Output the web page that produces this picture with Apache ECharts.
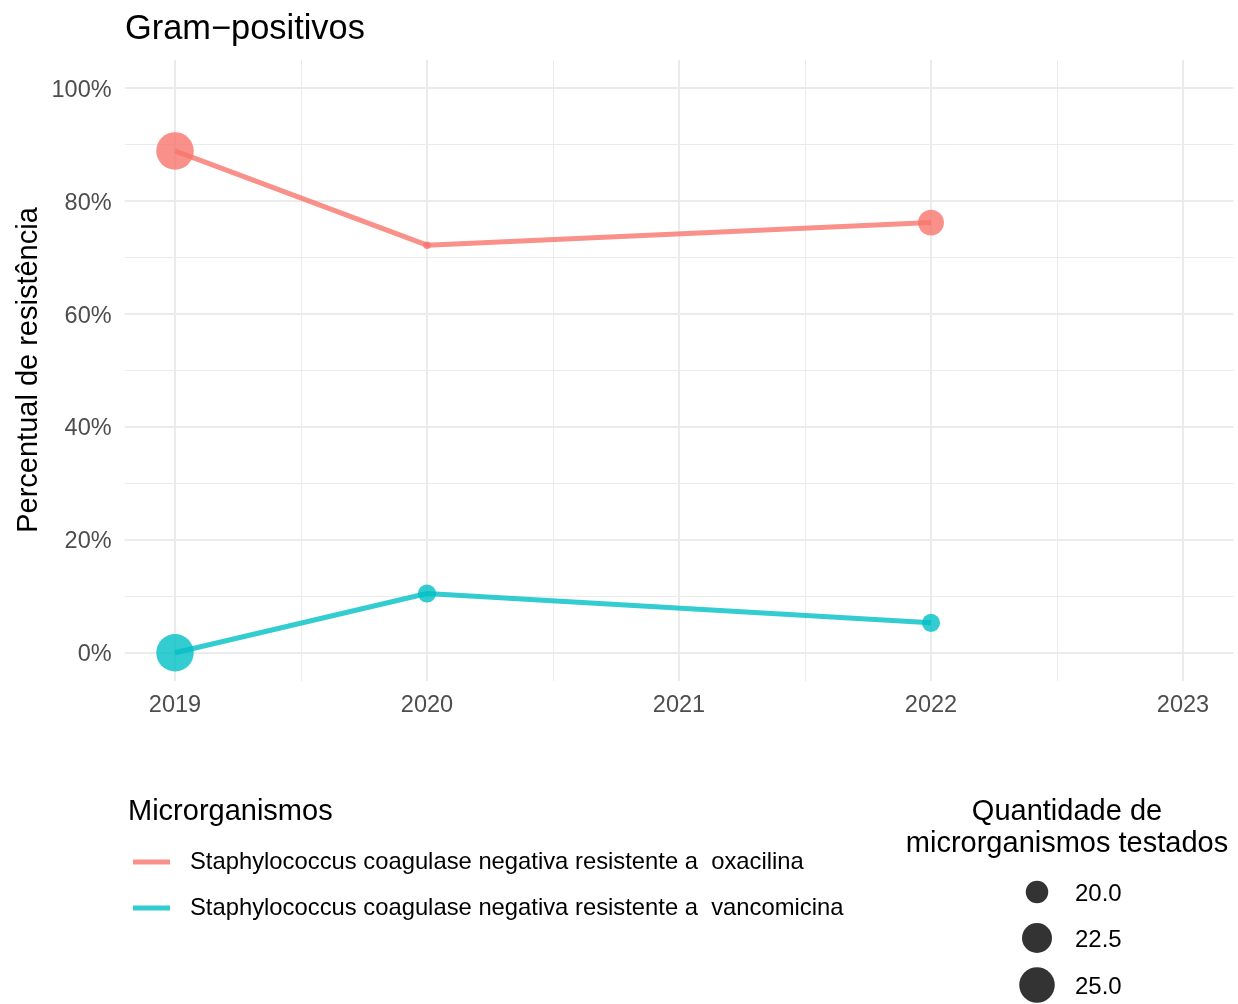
<!DOCTYPE html>
<html><head><meta charset="utf-8">
<script src="https://cdn.jsdelivr.net/npm/echarts@6/dist/echarts.min.js"></script>
<style>html,body{margin:0;padding:0;background:#fff}#c{width:1238px;height:1004px}</style>
</head><body><div id="c"></div>
<script>
const years = [2019, 2020, 2022];
const oxaPct = [88.9, 72.2, 76.2];
const vancPct = [0, 10.5, 5.3];
const oxaN = [26, 18, 21];
const vancN = [26, 19, 19];
const seriesNames = ['Staphylococcus coagulase negativa resistente a  oxacilina', 'Staphylococcus coagulase negativa resistente a  vancomicina'];
const xTicks = [2019, 2020, 2021, 2022, 2023];
const xMinor = [2019.5, 2020.5, 2021.5, 2022.5];
const yTicks = [0, 20, 40, 60, 80, 100];
const yMinor = [10, 30, 50, 70, 90];
const sizeBreaks = [20, 22.5, 25];
const sizeBreakLabels = ['20.0', '22.5', '25.0'];

const FONT = '"Liberation Sans", Arial, Helvetica, sans-serif';
const nMin = 18, nMax = 26;
function sizePx(n) { return 1.5 + 6 * (1 + 5 * Math.sqrt(Math.max(0, (n - nMin) / (nMax - nMin)))); }

const colOxa = 'rgba(248,118,109,0.8)';
const colVanc = 'rgba(0,191,196,0.8)';

function mk(pct, ns) { return years.map((y, i) => [y, pct[i], ns[i]]); }

const chart = echarts.init(document.getElementById('c'), null, { renderer: 'canvas' });

const graphic = [
  { type: 'text', left: 125, top: 13, style: { text: 'Gram\u2212positivos', font: '34.4px ' + FONT, fill: '#000' } },
  { type: 'text', x: 29, y: 370, rotation: Math.PI / 2, style: { text: 'Percentual de resistência', font: '29px ' + FONT, fill: '#000', align: 'center', verticalAlign: 'middle' } },
  { type: 'text', x: 128, y: 812, style: { text: 'Microrganismos', font: '29px ' + FONT, fill: '#000', align: 'left', verticalAlign: 'middle' } },
  { type: 'text', x: 1067, y: 812, style: { text: 'Quantidade de', font: '29px ' + FONT, fill: '#000', align: 'center', verticalAlign: 'middle' } },
  { type: 'text', x: 1067, y: 844, style: { text: 'microrganismos testados', font: '29px ' + FONT, fill: '#000', align: 'center', verticalAlign: 'middle' } }
];
const legendY = [892, 938, 985];
sizeBreaks.forEach((b, i) => {
  graphic.push({ type: 'circle', shape: { cx: 1037, cy: legendY[i], r: sizePx(b) / 2 }, style: { fill: '#333333' } });
  graphic.push({ type: 'text', x: 1075, y: legendY[i] + 2, style: { text: sizeBreakLabels[i], font: '24px ' + FONT, fill: '#000', align: 'left', verticalAlign: 'middle' } });
});

const option = {
  backgroundColor: '#fff',
  animation: false,
  textStyle: { fontFamily: FONT },
  grid: { left: 124.6, right: 4.6, top: 60, bottom: 323, containLabel: false },
  xAxis: [
    {
      type: 'value', min: 2018.8, max: 2023.2, position: 'bottom',
      axisLine: { show: false }, axisTick: { show: false, customValues: xTicks },
      axisLabel: { customValues: xTicks, formatter: v => String(v), color: '#4D4D4D', fontSize: 23.5, margin: 13, fontFamily: FONT },
      splitLine: { show: true, lineStyle: { color: '#EBEBEB', width: 2 } }
    },
    {
      type: 'value', min: 2018.8, max: 2023.2, position: 'top',
      axisLine: { show: false }, axisTick: { show: false, customValues: xMinor },
      axisLabel: { show: false, customValues: xMinor },
      splitLine: { show: true, lineStyle: { color: '#EBEBEB', width: 1 } }
    }
  ],
  yAxis: [
    {
      type: 'value', min: -5, max: 105, position: 'left',
      axisLine: { show: false }, axisTick: { show: false, customValues: yTicks },
      axisLabel: {
        customValues: yTicks, formatter: v => '{a|' + v + '%}', margin: 13,
        rich: { a: { color: '#4D4D4D', fontSize: 23.5, fontFamily: FONT, lineHeight: 24, padding: [4, 0, 0, 0] } }
      },
      splitLine: { show: true, lineStyle: { color: '#EBEBEB', width: 2 } }
    },
    {
      type: 'value', min: -5, max: 105, position: 'right',
      axisLine: { show: false }, axisTick: { show: false, customValues: yMinor },
      axisLabel: { show: false, customValues: yMinor },
      splitLine: { show: true, lineStyle: { color: '#EBEBEB', width: 1 } }
    }
  ],
  legend: {
    orient: 'vertical', left: 133, top: 848, padding: 0,
    itemWidth: 37, itemHeight: 5, itemGap: 18, icon: 'rect',
    data: seriesNames,
    textStyle: { fontSize: 23.8, color: '#000', fontFamily: FONT, lineHeight: 24, padding: [4, 0, 0, 15] }
  },
  series: [
    {
      name: seriesNames[0], type: 'line', xAxisIndex: 0, yAxisIndex: 0,
      data: mk(oxaPct, oxaN), symbol: 'circle', symbolSize: v => sizePx(v[2]), showSymbol: true,
      lineStyle: { color: colOxa, width: 5, cap: 'butt' }, itemStyle: { color: colOxa, borderWidth: 0 },
      emphasis: { disabled: true }
    },
    {
      name: seriesNames[1], type: 'line', xAxisIndex: 0, yAxisIndex: 0,
      data: mk(vancPct, vancN), symbol: 'circle', symbolSize: v => sizePx(v[2]), showSymbol: true,
      lineStyle: { color: colVanc, width: 5, cap: 'butt' }, itemStyle: { color: colVanc, borderWidth: 0 },
      emphasis: { disabled: true }
    }
  ],
  graphic: graphic
};
chart.setOption(option);
</script>
</body></html>
